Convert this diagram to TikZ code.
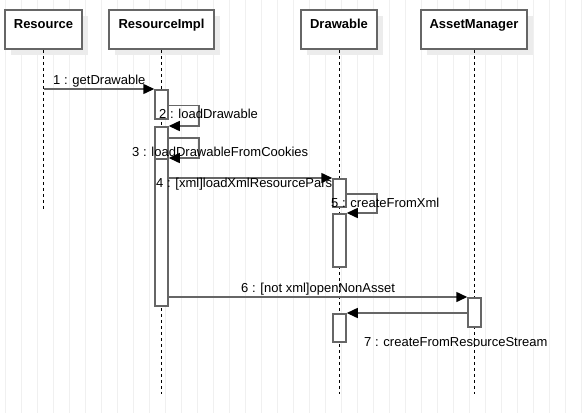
\documentclass[tikz,border=0pt]{standalone}
\usepackage{fontspec}
\setmainfont{Liberation Sans}
\usepackage{xcolor}
\definecolor{figline}{RGB}{102,102,102}
\definecolor{figshade}{RGB}{236,236,236}
\definecolor{figgrid}{RGB}{240,240,240}
\usepackage{tikz}
\usetikzlibrary{arrows.meta,positioning,calc,shadows}

\begin{document}
\begin{tikzpicture}[
  x=1pt,y=-1pt,
  font=\fontsize{13}{15}\selectfont,
  obj/.style={draw=figline,line width=1.5pt,fill=white,minimum height=39pt,
    text height=14pt,text depth=17pt,inner ysep=4pt,
    font=\fontsize{13}{15}\selectfont\bfseries,
    drop shadow={shadow xshift=6pt,shadow yshift=-6pt,fill=figshade,opacity=1}},
  life/.style={black,line width=1pt,dash pattern=on 3pt off 3pt},
  act/.style={draw=figline,line width=1.5pt,fill=white,minimum width=13pt,
    inner sep=0pt,anchor=north},
  msg/.style={figline,line width=1.5pt,-{Triangle[length=11pt,width=10pt,black]}},
  lbl/.style={anchor=base west,inner sep=0pt}
]
\useasboundingbox[fill=white] (0,0) rectangle (583,413);
\draw[figgrid,line width=1pt,step=16,shift={(5.5,3)}] (-5.5,-3) grid (577.5,410);
% objects
\node[obj,minimum width=77pt] (res) at (43.5,29.5) {Resource};
\node[obj,minimum width=105pt] (ri) at (161.5,29.5) {ResourceImpl};
\node[obj,minimum width=76pt] (dr) at (339,29.5) {Drawable};
\node[obj,minimum width=106pt] (am) at (474,29.5) {AssetManager};
\draw[life] (res.south) -- ++(0,159);
\draw[life] (ri.south) -- ++(0,344);
\draw[life] (dr.south) -- ++(0,344);
\draw[life] (am.south) -- ++(0,344);
% activations
\node[act,minimum height=29pt] (ri1) at (161.5,89) {};
\node[act,minimum height=179pt] (ri2) at (161.5,126) {};
\node[act,minimum height=147pt] (ri3) at (161.5,158) {};
\node[act,minimum height=28pt] (dr1) at (339.5,178) {};
\node[act,minimum height=53pt] (dr2) at (339.5,213) {};
\node[act,minimum height=28pt] (dr3) at (339.5,313) {};
\node[act,minimum height=29pt] (am1) at (474.5,297) {};
% messages
\draw[msg] (res.south |- ri1.north west) -- (ri1.north west);
\draw[msg] ([yshift=-16.7pt]ri1.north east) -- ++(30,0) |- (ri2.north east);
\draw[msg] ([yshift=-12pt]ri2.north east) -- ++(30,0) |- (ri3.north east);
\draw[msg] (ri3.east |- dr1.north west) -- (dr1.north west);
\draw[msg] ([yshift=-16pt]dr1.north east) -- ++(30,0) |- (dr2.north east);
\draw[msg] (ri3.east |- am1.north west) -- (am1.north west);
\draw[msg] (am1.west |- dr3.north east) -- (dr3.north east);
\node[lbl] (m1) at (53,84) {1 : getDrawable};
\node[lbl] (m2) at (159,118) {2 : loadDrawable};
\node[lbl] (m3) at (132,156) {3 : loadDrawableFromCookies};
\node[lbl] (m4) at (156,187) {4 : [xml]loadXmlResourcePars};
\node[lbl] (m5) at (331,207) {5 : createFromXml};
\node[lbl] (m6) at (241,292.5) {6 : [not xml]openNonAsset};
\node[lbl] (m7) at (364,346) {7 : createFromResourceStream};
\end{tikzpicture}
\end{document}
